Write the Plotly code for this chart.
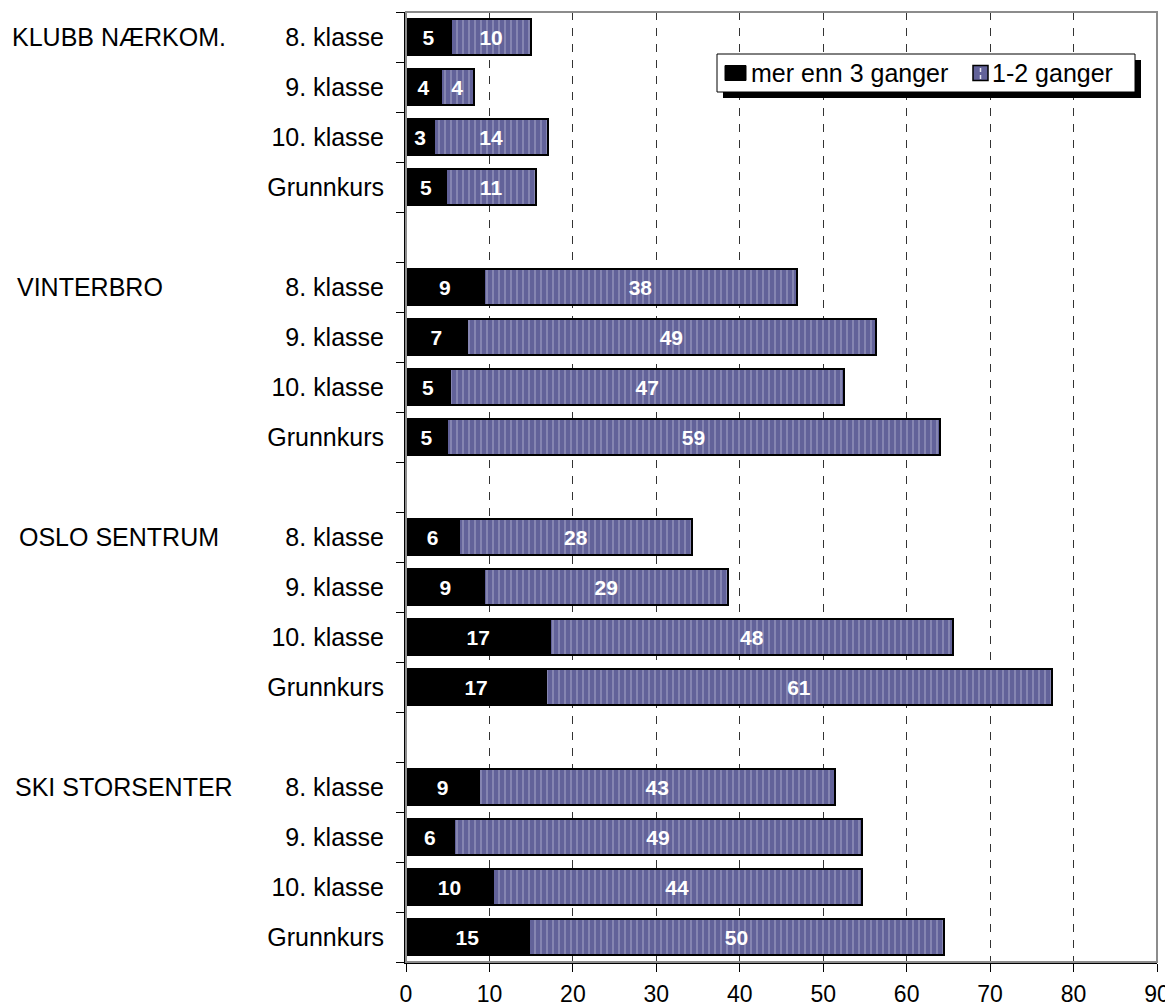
import plotly.graph_objects as go

# ---- data ----
groups = ["KLUBB NÆRKOM.", "VINTERBRO", "OSLO SENTRUM", "SKI STORSENTER"]
grades = ["8. klasse", "9. klasse", "10. klasse", "Grunnkurs"]
series_names = ["mer enn 3 ganger", "1-2 ganger"]
more_than_3 = [5.4, 4.2, 3.4, 4.8,
               9.3, 7.3, 5.3, 4.9,
               6.4, 9.4, 17.3, 16.8,
               8.8, 5.7, 10.4, 14.7]
once_twice = [9.6, 3.9, 13.6, 10.8,
              37.6, 49.0, 47.2, 59.1,
              27.9, 29.2, 48.3, 60.6,
              42.6, 49.0, 44.2, 49.8]
x_ticks = [0, 10, 20, 30, 40, 50, 60, 70, 80, 90]

# ---- layout helpers (screen coordinates; page body has an 8px margin) ----
OFF = 8
W, H = 1173 - OFF, 1008 - OFF
PX0, PX1, PY0, PY1 = 406, 1157, 12, 962          # plot area on screen
L, T = PX0 - OFF, PY0 - OFF
PW, PH = PX1 - PX0, PY1 - PY0
R, B = W - L - PW, H - T - PH


def px_x(px):
    return (px - PX0) / PW


def px_y(py):
    return 1 - (py - PY0) / PH


slots = len(grades) + 1
ypos = [g * slots + r for g in range(len(groups)) for r in range(len(grades))]
ylabels = [gr for _ in groups for gr in grades]
group_label_px = [10, 15, 17, 13]

BLUE = "#626299"
FONT = "Liberation Sans, Arial, sans-serif"

fig = go.Figure()
fig.add_trace(go.Bar(
    orientation="h", y=ypos, x=more_than_3, name=series_names[0],
    width=0.72,
    marker=dict(color="black", line=dict(color="black", width=2)),
    texttemplate="%{x:.0f}", textposition="inside", insidetextanchor="middle",
    textfont=dict(color="white", family=FONT, size=21, weight="bold"),
    constraintext="none", textangle=0,
))
fig.add_trace(go.Bar(
    orientation="h", y=ypos, x=once_twice, name=series_names[1],
    width=0.72,
    marker=dict(color=BLUE, line=dict(color="black", width=2),
                pattern=dict(shape="|", fgcolor="#e6e6f0", size=6, solidity=0.18,
                             fillmode="overlay")),
    texttemplate="%{x:.0f}", textposition="inside", insidetextanchor="middle",
    textfont=dict(color="white", family=FONT, size=21, weight="bold"),
    constraintext="none", textangle=0,
))

# group labels
for g, name in enumerate(groups):
    fig.add_annotation(
        text=name, xref="paper", yref="y",
        x=px_x(group_label_px[g]), y=ypos[g * len(grades)],
        xanchor="left", yanchor="middle", showarrow=False,
        font=dict(family=FONT, size=25, color="black"),
    )

# grey frame (top / right)
fig.add_shape(type="rect", xref="paper", yref="paper", x0=0, x1=1, y0=0, y1=1,
              line=dict(color="#8c8c8c", width=2), layer="above")

# ---- legend drawn by hand (box with drop shadow) ----
lx0, lx1, ly0, ly1 = 717, 1135, 54, 92
sh = 6
ly_mid = (ly0 + ly1) / 2


def rect(x0, y0, x1, y1, **kw):
    fig.add_shape(type="rect", xref="paper", yref="paper",
                  x0=px_x(x0), x1=px_x(x1), y0=px_y(y1), y1=px_y(y0),
                  layer="above", **kw)


rect(lx0 + sh, ly0 + sh, lx1 + sh, ly1 + sh, fillcolor="black", line=dict(width=0))
rect(lx0, ly0, lx1, ly1, fillcolor="white", line=dict(color="black", width=1))
# swatch 1 (solid black)
rect(725, ly_mid - 7.5, 746, ly_mid + 7.5, fillcolor="black", line=dict(color="black", width=1))
# swatch 2 (patterned blue)
rect(973, ly_mid - 7.5, 988, ly_mid + 7.5, fillcolor=BLUE, line=dict(color="black", width=1.5))
for d0, d1 in [(-5, -1), (2, 6)]:
    fig.add_shape(type="line", xref="paper", yref="paper",
                  x0=px_x(980.5), x1=px_x(980.5),
                  y0=px_y(ly_mid + d0), y1=px_y(ly_mid + d1),
                  line=dict(color="#e6e6f0", width=1.5), layer="above")
for text, tx in [(series_names[0], 749), (series_names[1], 990)]:
    fig.add_annotation(text=text, xref="paper", yref="paper",
                       x=px_x(tx), y=px_y(ly_mid), xanchor="left", yanchor="middle",
                       showarrow=False, font=dict(family=FONT, size=25, color="black"))

fig.update_layout(
    width=W, height=H,
    margin=dict(l=L, r=R, t=T, b=B, pad=0, autoexpand=False),
    barmode="stack",
    plot_bgcolor="white", paper_bgcolor="white",
    font=dict(family=FONT, color="black"),
    showlegend=False,
    xaxis=dict(range=[0, 90], tickmode="array", tickvals=x_ticks,
               ticks="outside", ticklen=8, tickcolor="black", tickwidth=1,
               showgrid=True, gridcolor="#333333", griddash="8px,8px", gridwidth=1,
               showline=True, linecolor="black", linewidth=1.5, zeroline=False,
               tickfont=dict(family=FONT, size=23, color="black"),
               ticklabelstandoff=3, fixedrange=True, automargin=False),
    yaxis=dict(range=[len(groups) * slots - 1.5, -0.5], tickmode="array",
               tickvals=ypos, ticktext=ylabels, ticks="",
               minor=dict(ticks="outside", ticklen=8, tickcolor="black",
                          tick0=0.5, dtick=1, showgrid=False),
               showline=True, linecolor="black", linewidth=2,
               showgrid=False, zeroline=False,
               tickfont=dict(family=FONT, size=25, color="black"),
               ticklabelstandoff=15, fixedrange=True, automargin=False),
)

fig.write_html("out.html")
